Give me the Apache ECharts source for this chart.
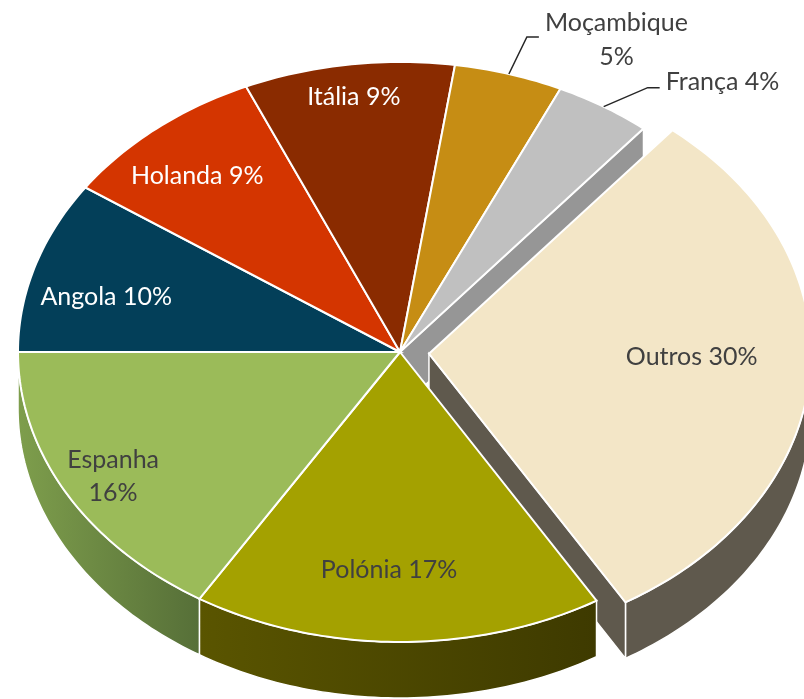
<!DOCTYPE html>
<html>
<head>
<meta charset="utf-8">
<style>
html, body { margin: 0; padding: 0; background: #fff; }
#chart { width: 804px; height: 699px; }
</style>
<script src="https://cdn.jsdelivr.net/npm/echarts@6/dist/echarts.min.js"></script>
</head>
<body>
<div id="chart"></div>
<script>
// fatias, no sentido dos ponteiros a partir das 9 horas
var countries = ['Angola', 'Holanda', 'Itália', 'Moçambique', 'França', 'Outros', 'Polónia', 'Espanha'];
var shares = [9.6, 8.8, 8.9, 4.6, 4.1, 30.4, 17.4, 16.2];
var explodedName = 'Outros';

var topColors = ['#033F59', '#D43500', '#8A2B00', '#C68D14', '#C0C0C0', '#F3E6C7', '#A4A100', '#9BBB59'];
var sideColors = [
    ['#03334A', '#022636'], ['#A82D00', '#8A2500'], ['#6B2100', '#571B00'], ['#977010', '#7E5D0D'],
    ['#969696', '#969696'], ['#5F594D', '#5F594D'], ['#5A5500', '#3E3A00'], ['#7E9E4C', '#566F38']
];
var labelColors = ['#fff', '#fff', '#fff', '#404040', '#404040', '#404040', '#404040', '#404040'];
var labelWrap = [false, false, false, true, false, false, false, true];
var labelOutside = [false, false, false, true, true, false, false, false];
// ajustes finos das etiquetas (px)
var labelNudge = [[-2, 14], [-8, 3], [-5, -25], [18, -37], [44, -19], [-42, -14], [-9, -14], [-20, 11]];

var CX = 400, CY = 352, RX = 382, RY = 290, DEPTH = 56, EXPLODE = 0.076;
var FONT = '25px Lato';

var total = shares.reduce(function (s, v) { return s + v; }, 0);
var starts = [], ends = [], mids = [];
var acc = 270;
shares.forEach(function (v) {
    starts.push(acc);
    acc += v / total * 360;
    ends.push(acc);
    mids.push((starts[starts.length - 1] + acc) / 2);
});
var n = shares.length;
var exIdx = countries.indexOf(explodedName);

var measureCtx = document.createElement('canvas').getContext('2d');
function textWidth(str) {
    measureCtx.font = FONT;
    return Math.max.apply(null, str.split('\n').map(function (s) { return measureCtx.measureText(s).width; }));
}

function rad(d) { return d * Math.PI / 180; }
function offsetOf(i) {
    if (i !== exIdx) return [0, 0];
    var m = rad(mids[i]);
    return [RX * Math.sin(m) * EXPLODE, -RY * Math.cos(m) * EXPLODE];
}
function rimPt(deg, off, dy) {
    var t = rad(deg);
    return [CX + off[0] + RX * Math.sin(t), CY + off[1] - RY * Math.cos(t) + (dy || 0)];
}
function arc(a, b, off, dy) {
    var pts = [];
    var steps = Math.max(2, Math.ceil(Math.abs(b - a)));
    for (var k = 0; k <= steps; k++) pts.push(rimPt(a + (b - a) * k / steps, off, dy));
    return pts;
}
function sideFill(i) {
    return {
        type: 'linear', x: 0, y: 0, x2: 1, y2: 0,
        colorStops: [{offset: 0, color: sideColors[i][0]}, {offset: 1, color: sideColors[i][1]}]
    };
}
function cutFace(deg, off, i) {
    var c = [CX + off[0], CY + off[1]];
    var r = rimPt(deg, off, 0);
    return {
        type: 'polygon',
        shape: {points: [c, r, [r[0], r[1] + DEPTH], [c[0], c[1] + DEPTH]]},
        style: {fill: sideColors[i][1], stroke: '#fff', lineWidth: 1.5}
    };
}

function renderSides(params, api) {
    var i = params.dataIndex, a = starts[i], b = ends[i], off = offsetOf(i);
    var children = [];
    for (var k = -1; k < 3; k++) {
        var s = Math.max(a, 90 + 360 * k), e = Math.min(b, 270 + 360 * k);
        if (e > s) {
            children.push({
                type: 'polygon',
                shape: {points: arc(s, e, off, 0).concat(arc(e, s, off, DEPTH))},
                style: {fill: sideFill(i), stroke: '#fff', lineWidth: 1.5}
            });
        }
    }
    var prev = (i + n - 1) % n, next = (i + 1) % n;
    if ((i === exIdx || prev === exIdx) && Math.sin(rad(a)) < 0) children.push(cutFace(a, off, i));
    if ((i === exIdx || next === exIdx) && Math.sin(rad(b)) > 0) children.push(cutFace(b, off, i));
    return {type: 'group', children: children};
}

function renderTops(params, api) {
    var i = params.dataIndex, off = offsetOf(i);
    var apex = [CX + off[0], CY + off[1]];
    var pct = Math.round(api.value(0) / total * 100) + '%';
    var text = countries[i] + (labelWrap[i] ? '\n' : ' ') + pct;
    var children = [{
        type: 'polygon',
        shape: {points: [apex].concat(arc(starts[i], ends[i], off, 0))},
        style: {fill: topColors[i], stroke: '#fff', lineWidth: 2}
    }];
    var t = rad(mids[i]), nd = labelNudge[i];
    if (labelOutside[i]) {
        var p0 = rimPt(mids[i], off, 0);
        var p1 = [p0[0] + nd[0], p0[1] + nd[1]];
        var p2 = [p1[0] + 12, p1[1]];
        children.push({
            type: 'polyline',
            shape: {points: [p0, p1, p2]},
            style: {stroke: '#262626', lineWidth: 1.5, fill: null}
        });
        var w = textWidth(text);
        children.push({
            type: 'text', z2: 10,
            x: p2[0] + 6 + w / 2, y: p2[1] + (labelWrap[i] ? 3 : -6),
            style: {text: text, font: FONT, fill: labelColors[i], align: 'center', verticalAlign: 'middle', lineHeight: 34}
        });
    } else {
        children.push({
            type: 'text', z2: 10,
            x: apex[0] + 0.8 * RX * Math.sin(t) + nd[0],
            y: apex[1] - 0.8 * RY * Math.cos(t) + nd[1],
            style: {text: text, font: FONT, fill: labelColors[i], align: 'center', verticalAlign: 'middle', lineHeight: 33}
        });
    }
    return {type: 'group', children: children};
}

var chart = echarts.init(document.getElementById('chart'));
chart.setOption({
    backgroundColor: '#fff',
    animation: false,
    series: [
        {type: 'custom', coordinateSystem: 'none', z: 1, silent: true, renderItem: renderSides, data: shares},
        {type: 'custom', coordinateSystem: 'none', z: 2, silent: true, renderItem: renderTops, data: shares}
    ]
});
</script>
</body>
</html>
